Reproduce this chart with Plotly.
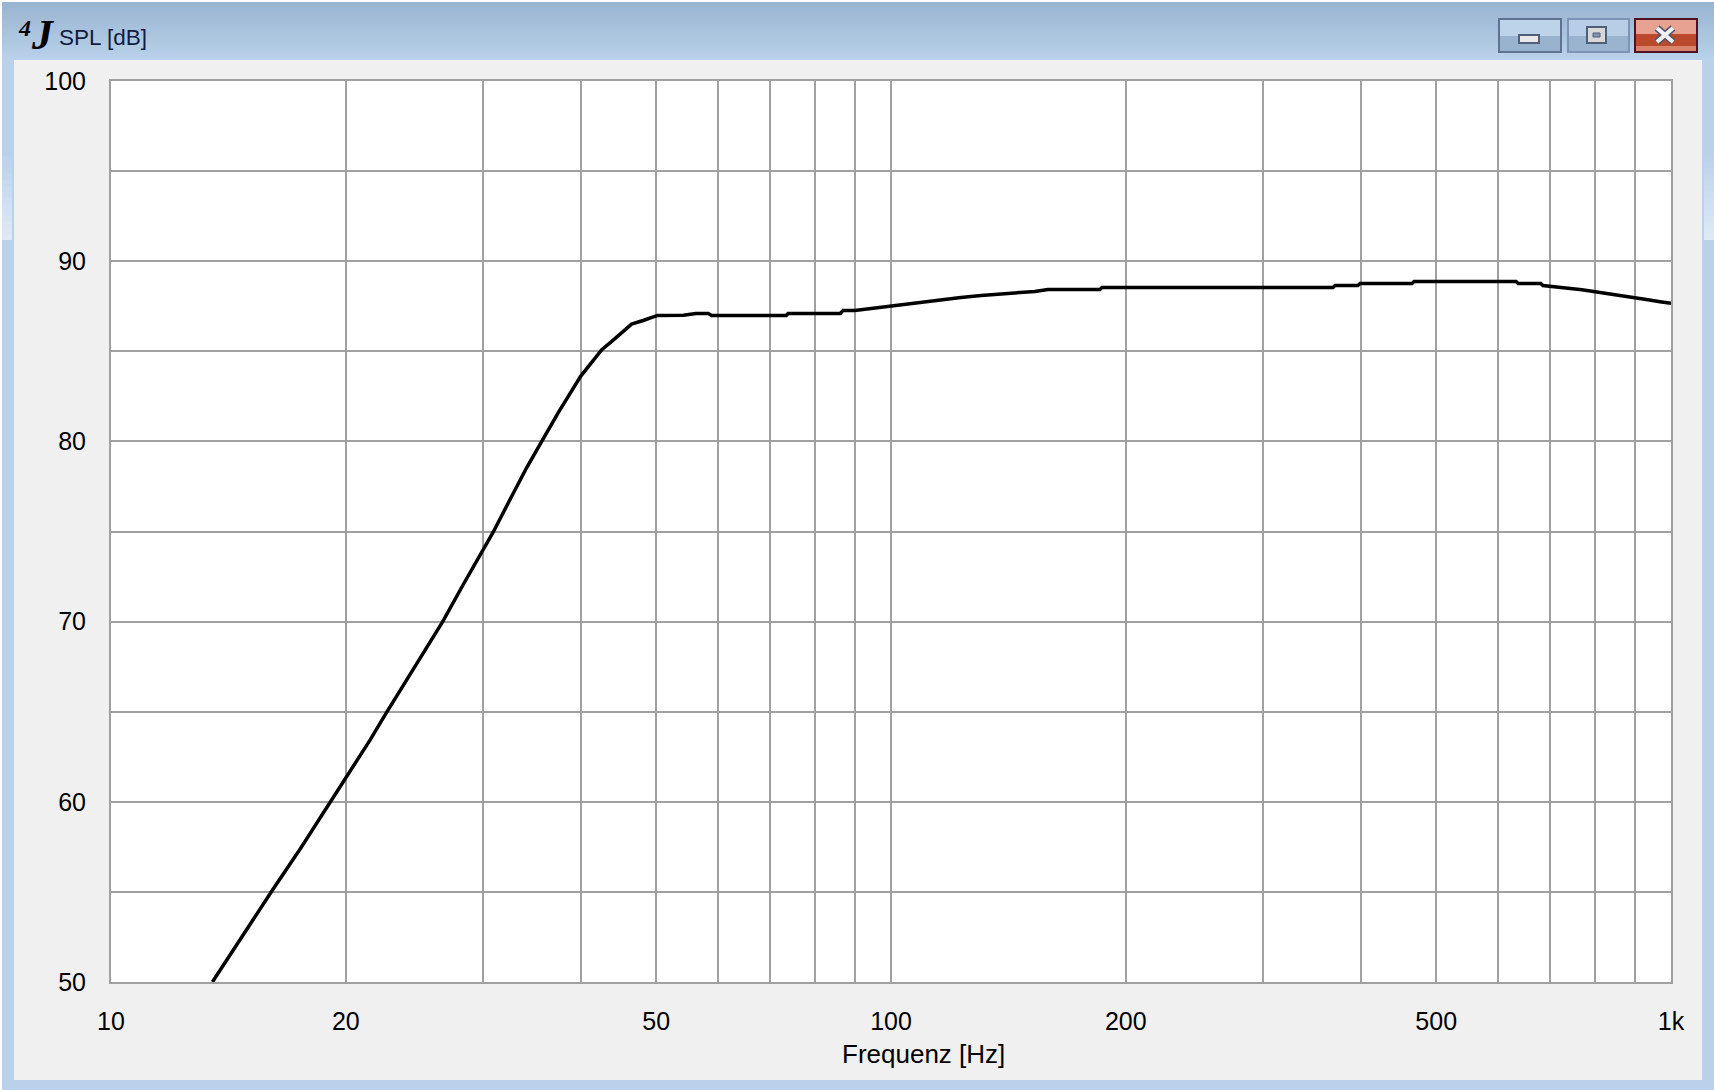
import plotly.graph_objects as go

# Data
freq_hz = [13.49, 14.78, 16.14, 17.47, 19.09, 20.0, 21.48, 22.57, 24.17, 25.77, 26.6, 28.29, 30.0, 30.9,
           32.64, 34.12, 35.77, 37.45, 40.0, 42.58, 43.85, 46.5, 48.1, 50.2, 54.2, 56.2, 58.3, 58.9,
           73.4, 73.8, 86.1, 86.8, 89.9, 96.2, 101.5, 105.8, 112.2, 118.7, 122.9, 130.5, 141.3, 152.9,
           158.9, 185.3, 186.4, 368.7, 371, 396.8, 399.4, 465.6, 468.3, 633, 636.8, 681, 685.2, 710,
           737.8, 768.8, 801.6, 830, 860.5, 893.9, 934.2, 968, 1000]
spl_db = [50.0, 52.66, 55.16, 57.37, 59.96, 61.25, 63.42, 64.98, 67.07, 68.97, 69.97, 72.06, 74.0, 74.96,
          76.96, 78.55, 80.1, 81.6, 83.61, 85.09, 85.55, 86.51, 86.71, 86.99, 87.0, 87.1, 87.1, 86.99,
          86.99, 87.1, 87.1, 87.27, 87.27, 87.43, 87.54, 87.66, 87.77, 87.9, 87.99, 88.1, 88.21, 88.32,
          88.43, 88.43, 88.54, 88.54, 88.65, 88.65, 88.76, 88.76, 88.87, 88.87, 88.76, 88.76, 88.65, 88.6,
          88.5, 88.41, 88.3, 88.19, 88.08, 87.97, 87.86, 87.75, 87.66]

x_grid = [10, 20, 30, 40, 50, 60, 70, 80, 90, 100, 200, 300, 400, 500, 600, 700, 800, 900, 1000]
x_labels = ["10", "20", "", "", "50", "", "", "", "", "100", "200", "", "", "500", "", "", "", "", "1k"]
y_grid = [50, 55, 60, 65, 70, 75, 80, 85, 90, 95, 100]
y_labels = ["50", "", "60", "", "70", "", "80", "", "90", "", "100"]
x_title = "Frequenz [Hz]"
window_title = "SPL [dB]"

W, H = 1714, 1090
L, R, T, B = 111, 1671, 81, 982


def fx(x):
    return (x - L) / (R - L)


def fy(y):
    return (B - y) / (B - T)


def rect(x0, y0, x1, y1, fill, line=None, lw=0):
    return dict(type="rect", xref="paper", yref="paper", x0=fx(x0), x1=fx(x1), y0=fy(y0), y1=fy(y1),
                fillcolor=fill, line=dict(color=line or fill, width=lw), layer="below")


def seg(x0, y0, x1, y1, color, lw):
    return dict(type="line", xref="paper", yref="paper", x0=fx(x0), x1=fx(x1), y0=fy(y0), y1=fy(y1),
                line=dict(color=color, width=lw), layer="below")


def mix(c0, c1, t):
    return "rgb(%d,%d,%d)" % tuple(round(a + (b - a) * t) for a, b in zip(c0, c1))


BLUE = "#b9d1ea"
shapes = [
    rect(0, 0, W, 2, "#ffffff"), rect(0, 0, 2, H, "#ffffff"),
    rect(2, 60, 14, H, BLUE), rect(1702, 60, W, H, BLUE), rect(2, 1080, W, H, BLUE),
]
# title bar gradient
for i, y in enumerate(range(2, 60, 2)):
    shapes.append(rect(2, y, W, y + 2, mix((153, 180, 209), (185, 209, 234), i / 28)))
# side reflections
for i, y in enumerate(range(150, 240, 6)):
    c = mix((185, 209, 234), (222, 233, 246), i / 14)
    shapes.append(rect(2, y, 12, y + 6, c))
    shapes.append(rect(1704, y, W, y + 6, c))

# minimise button
shapes += [
    rect(1499, 19, 1561, 36, "#bcd3ea"), rect(1499, 36, 1561, 52, "#99b3cf"),
    rect(1499, 19, 1561, 52, "rgba(0,0,0,0)", "#5f7391", 2),
    rect(1519, 35, 1539, 43, "#e8e8e8", "#4f5f78", 2),
]
# maximise button
shapes += [
    rect(1568, 19, 1629, 36, "#b7cee6"), rect(1568, 36, 1629, 52, "#9ab4d0"),
    rect(1568, 19, 1629, 52, "rgba(0,0,0,0)", "#7d95b5", 2),
    rect(1587, 27, 1606, 43, "#d8d8d8", "#4f5f78", 2),
    rect(1593, 33, 1600, 37, "#7f99b8", "#4f5f78", 1),
]
# close button
shapes += [
    rect(1635, 19, 1697, 34, "#e8a291"), rect(1635, 34, 1697, 46, "#ba4a2b"), rect(1635, 46, 1697, 52, "#d9826c"),
    rect(1635, 19, 1697, 52, "rgba(0,0,0,0)", "#4e1222", 2),
    seg(1657, 28, 1673, 42, "#50566a", 7), seg(1673, 28, 1657, 42, "#50566a", 7),
    seg(1657, 28, 1673, 42, "#f2f2f2", 4), seg(1673, 28, 1657, 42, "#f2f2f2", 4),
]

FONT = "Liberation Sans"
PAPER = dict(xref="paper", yref="paper", showarrow=False, yanchor="middle")
annotations = [
    dict(text=window_title, x=fx(57), y=fy(37), xanchor="left",
         font=dict(family=FONT, size=22.5, color="#101c40"), **PAPER),
    dict(text="<b><i>4</i></b>", x=fx(16), y=fy(28), xanchor="left",
         font=dict(family="Liberation Serif", size=24, color="#000000"), **PAPER),
    dict(text="<b><i>J</i></b>", x=fx(29), y=fy(35), xanchor="left",
         font=dict(family="Liberation Serif", size=42, color="#000000"), **PAPER),
    dict(text=x_title, x=fx(923), y=fy(1054), xanchor="center",
         font=dict(family=FONT, size=26, color="#000000"), **PAPER),
]

fig = go.Figure(go.Scatter(x=freq_hz, y=spl_db, mode="lines", line=dict(color="#000000", width=3.5), hoverinfo="skip"))
fig.update_layout(
    width=W, height=H, autosize=False, showlegend=False,
    margin=dict(l=L, r=W - R, t=T, b=H - B, pad=0),
    paper_bgcolor="#f0f0f0", plot_bgcolor="#ffffff",
    font=dict(family=FONT, size=25, color="#000000"),
    shapes=shapes, annotations=annotations,
)
GRID = "#a0a0a0"
fig.update_xaxes(type="log", range=[1, 3], tickmode="array", tickvals=x_grid, ticktext=x_labels,
                 showgrid=True, gridcolor=GRID, gridwidth=2, showline=True, linecolor=GRID, linewidth=2,
                 mirror=True, ticks="outside", ticklen=16, tickcolor="rgba(0,0,0,0)", tickangle=0, zeroline=False)
fig.update_yaxes(range=[50, 100], tickmode="array", tickvals=y_grid, ticktext=y_labels,
                 showgrid=True, gridcolor=GRID, gridwidth=2, showline=True, linecolor=GRID, linewidth=2,
                 mirror=True, ticks="outside", ticklen=18, tickcolor="rgba(0,0,0,0)", zeroline=False)

fig.write_html("out.html", config=dict(displayModeBar=False),
               post_script="document.body.style.margin='0';document.body.style.overflow='hidden';")
